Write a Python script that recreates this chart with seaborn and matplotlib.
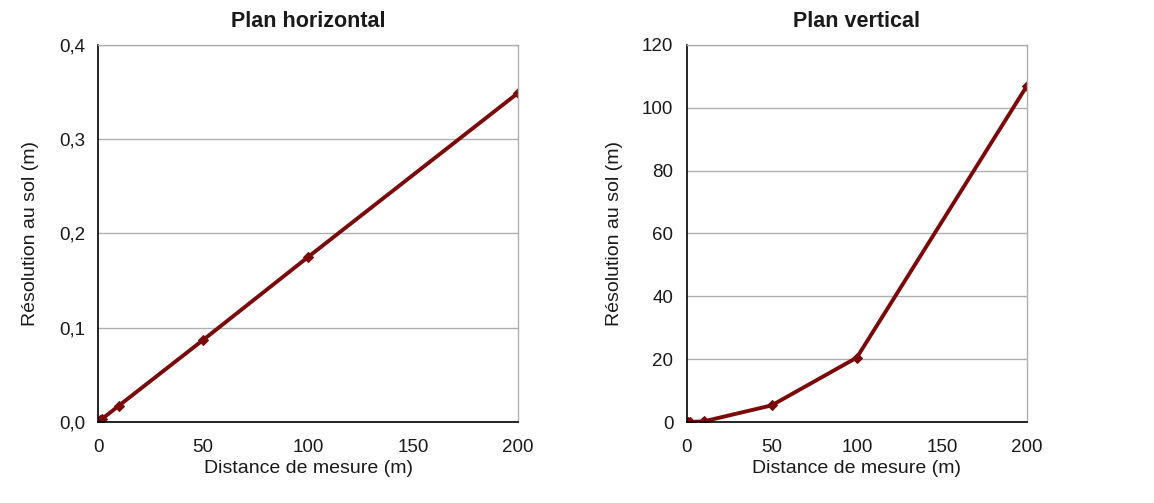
import pandas as pd
import seaborn as sns
import matplotlib.pyplot as plt

# Données
distance = [1, 2, 10, 50, 100, 200]
res_horizontal = [0.0017, 0.0035, 0.0175, 0.087, 0.175, 0.349]
res_vertical = [0.0, 0.02, 0.2, 5.3, 20.5, 107.0]

titres = ["Plan horizontal", "Plan vertical"]
x_ticks = [0, 50, 100, 150, 200]
y_ticks_h = [0.0, 0.1, 0.2, 0.3, 0.4]
y_ticks_v = [0, 20, 40, 60, 80, 100, 120]

df = pd.DataFrame({"distance": distance, "horizontal": res_horizontal, "vertical": res_vertical})

sns.set_style("white")
plt.rcParams['font.family'] = ['Liberation Sans', 'DejaVu Sans']
plt.rcParams['text.color'] = "#1a1a1a"
plt.rcParams['axes.labelcolor'] = "#1a1a1a"
plt.rcParams['xtick.color'] = "black"
plt.rcParams['ytick.color'] = "black"
plt.rcParams['xtick.labelcolor'] = "#1a1a1a"
plt.rcParams['ytick.labelcolor'] = "#1a1a1a"

fig = plt.figure(figsize=(11.54, 5.03), dpi=100)
ax1 = fig.add_axes([0.085, 0.161, 0.364, 0.750])
ax2 = fig.add_axes([0.595, 0.161, 0.295, 0.750])

couleur = "#7a0a0a"

for ax, col, titre, yt in [(ax1, "horizontal", titres[0], y_ticks_h), (ax2, "vertical", titres[1], y_ticks_v)]:
    sns.lineplot(data=df, x="distance", y=col, ax=ax, color=couleur, linewidth=2.8,
                 marker="D", markersize=5, markeredgecolor=couleur)
    ax.set_xlim(0, 200)
    ax.set_ylim(yt[0], yt[-1])
    ax.set_xticks(x_ticks)
    ax.set_yticks(yt)
    ax.set_title(titre, fontsize=15.5, fontweight="bold", pad=13)
    ax.set_xlabel("Distance de mesure (m)", fontsize=14, labelpad=3)
    ax.set_ylabel("Résolution au sol (m)", fontsize=14, labelpad=14)
    ax.yaxis.grid(True, color="#b0b0b0", linewidth=1)
    ax.set_axisbelow(True)
    for s in ["top", "right"]:
        ax.spines[s].set_color("#b0b0b0")
        ax.spines[s].set_linewidth(1)
    for s in ["left", "bottom"]:
        ax.spines[s].set_color("black")
        ax.spines[s].set_linewidth(1.2)
    ax.tick_params(axis="y", direction="inout", length=7, width=1, labelsize=13.5, pad=6)
    ax.tick_params(axis="x", direction="in", length=6, width=1, labelsize=13.5, pad=12)

ax1.set_yticklabels([f"{v:.1f}".replace(".", ",") for v in y_ticks_h])

plt.savefig("out.png", dpi=100)
